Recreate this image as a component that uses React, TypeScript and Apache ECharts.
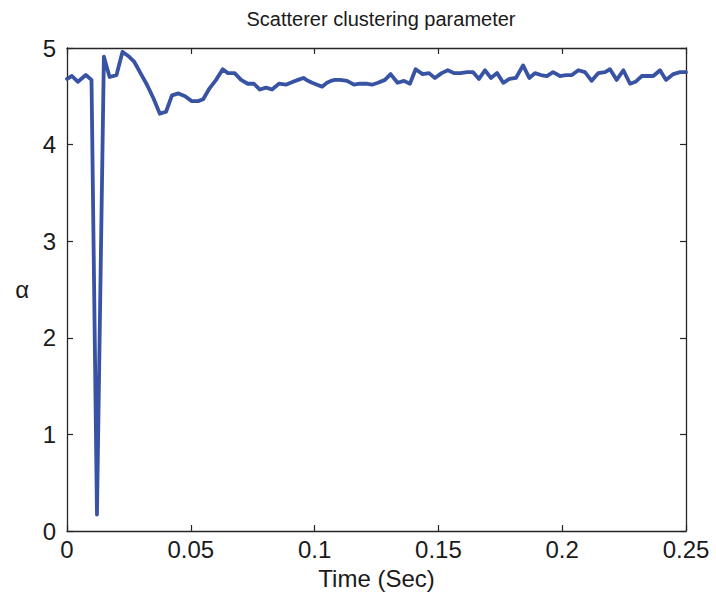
import React, { useEffect, useRef } from "react";
import * as echarts from "echarts";

const times: number[] = [
  0, 0.002, 0.0044, 0.0076, 0.0099, 0.0121, 0.0149, 0.0172, 0.02, 0.0224,
  0.0246, 0.0271, 0.0299, 0.0323, 0.0349, 0.0375, 0.04, 0.0424, 0.045, 0.0477,
  0.0504, 0.0529, 0.055, 0.0575, 0.0602, 0.0629, 0.065, 0.0677, 0.0703, 0.073,
  0.0755, 0.0779, 0.0804, 0.0828, 0.0856, 0.0884, 0.0913, 0.0933, 0.0955, 0.0973,
  0.099, 0.101, 0.103, 0.105, 0.1066, 0.1082, 0.1103, 0.1131, 0.1159, 0.1183,
  0.1208, 0.1232, 0.1256, 0.1284, 0.1307, 0.1335, 0.1361, 0.1385, 0.1408, 0.1436,
  0.1462, 0.1486, 0.1513, 0.1538, 0.1563, 0.1589, 0.1616, 0.164, 0.1664, 0.1688,
  0.1712, 0.1737, 0.1762, 0.1787, 0.1813, 0.1842, 0.1867, 0.189, 0.1914, 0.1938,
  0.1963, 0.1991, 0.2015, 0.2039, 0.2065, 0.2092, 0.2119, 0.2146, 0.2173, 0.2193,
  0.222, 0.2247, 0.2274, 0.2296, 0.2321, 0.2345, 0.2368, 0.2395, 0.2419, 0.2449,
  0.2476, 0.25,
];

const alphaValues: number[] = [
  4.68, 4.71, 4.65, 4.72, 4.67, 0.17, 4.91, 4.7, 4.72, 4.96,
  4.92, 4.86, 4.73, 4.62, 4.48, 4.32, 4.34, 4.51, 4.53, 4.5,
  4.45, 4.45, 4.47, 4.58, 4.67, 4.78, 4.74, 4.74, 4.67, 4.63,
  4.63, 4.57, 4.59, 4.57, 4.63, 4.62, 4.65, 4.67, 4.69, 4.66,
  4.64, 4.62, 4.6, 4.64, 4.66, 4.67, 4.67, 4.66, 4.62, 4.63,
  4.63, 4.62, 4.64, 4.67, 4.73, 4.64, 4.66, 4.63, 4.78, 4.73,
  4.74, 4.69, 4.74, 4.77, 4.74, 4.74, 4.75, 4.75, 4.68, 4.77,
  4.69, 4.74, 4.64, 4.68, 4.69, 4.82, 4.69, 4.74, 4.72, 4.71,
  4.75, 4.71, 4.72, 4.72, 4.77, 4.75, 4.66, 4.74, 4.75, 4.78,
  4.67, 4.77, 4.63, 4.65, 4.71, 4.71, 4.71, 4.77, 4.67, 4.73,
  4.75, 4.75,
];

const xTicks = { min: 0, max: 0.25, interval: 0.05 };
const yTicks = { min: 0, max: 5, interval: 1 };

const FONT = "'Liberation Sans', Arial, Helvetica, sans-serif";
const AXIS_COLOR = "#262626";

export default function App() {
  const ref = useRef<HTMLDivElement>(null);
  useEffect(() => {
    if (!ref.current) return;
    const chart = echarts.init(ref.current, undefined, { renderer: "svg" });
    const data = times.map((t, i) => [t, alphaValues[i]]);
    const axisLine = { show: true, onZero: false, lineStyle: { color: AXIS_COLOR, width: 1.3 } };
    const axisTick = { show: true, inside: true, length: 6, lineStyle: { color: AXIS_COLOR, width: 1.2 } };
    chart.setOption({
      animation: false,
      backgroundColor: "#ffffff",
      title: {
        text: "Scatterer clustering parameter",
        left: 376,
        textAlign: "center",
        top: 4,
        textStyle: { fontFamily: FONT, fontSize: 20, fontWeight: "normal", color: "#1a1a1a" },
      },
      grid: { left: 67, right: 30, top: 48, bottom: 68, containLabel: false },
      xAxis: [
        {
          type: "value",
          ...xTicks,
          position: "bottom",
          axisLine,
          axisTick,
          splitLine: { show: false },
          axisLabel: { fontFamily: FONT, fontSize: 24, color: "#1a1a1a", margin: 6 },
          name: "Time (Sec)",
          nameLocation: "middle",
          nameGap: 35,
          nameTextStyle: { fontFamily: FONT, fontSize: 24, color: "#1a1a1a" },
        },
        {
          type: "value",
          ...xTicks,
          position: "top",
          axisLine,
          axisTick,
          splitLine: { show: false },
          axisLabel: { show: false },
        },
      ],
      yAxis: [
        {
          type: "value",
          ...yTicks,
          position: "left",
          axisLine,
          axisTick,
          splitLine: { show: false },
          axisLabel: { fontFamily: FONT, fontSize: 24, color: "#1a1a1a", margin: 11 },
          name: "α",
          nameLocation: "middle",
          nameRotate: 0,
          nameGap: 38,
          nameTextStyle: { fontFamily: FONT, fontSize: 24, color: "#1a1a1a" },
        },
        {
          type: "value",
          ...yTicks,
          position: "right",
          axisLine,
          axisTick,
          splitLine: { show: false },
          axisLabel: { show: false },
        },
      ],
      series: [
        {
          type: "line",
          data,
          xAxisIndex: 0,
          yAxisIndex: 0,
          showSymbol: false,
          symbol: "none",
          lineStyle: { color: "#3852a4", width: 3.8, join: "round", cap: "round" },
          z: 5,
        },
      ],
    });
    return () => chart.dispose();
  }, []);
  return <div ref={ref} style={{ width: 716, height: 599, position: "absolute", left: 0, top: 0 }} />;
}
